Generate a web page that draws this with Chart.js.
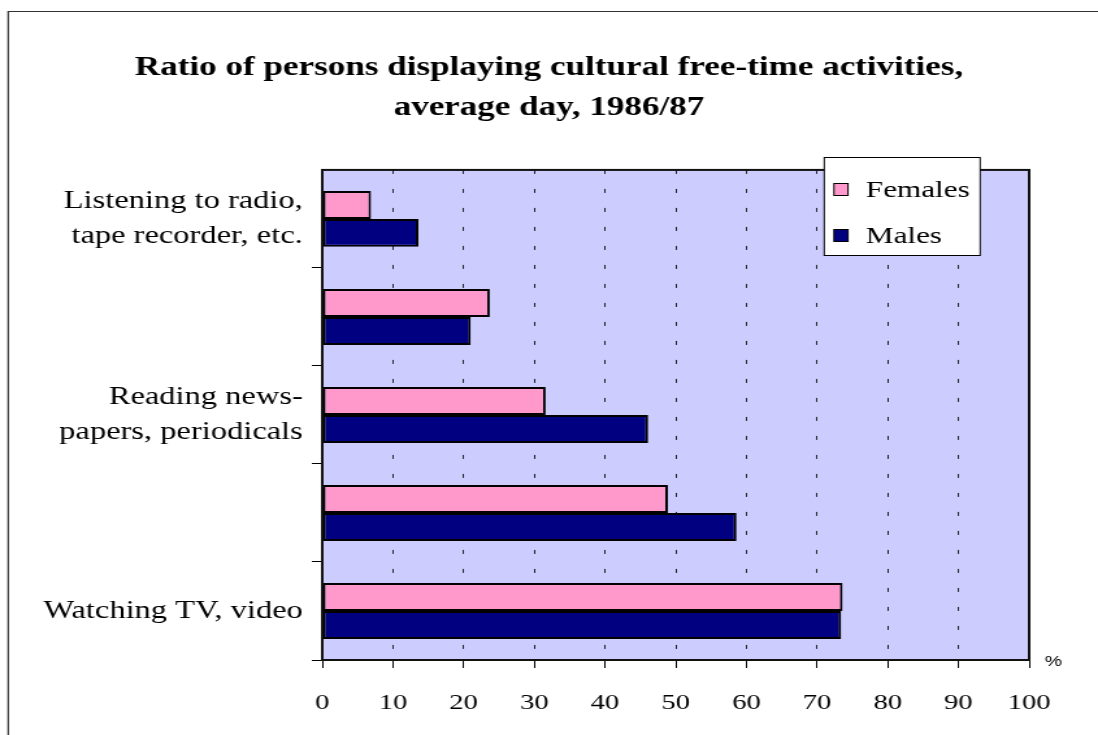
<!DOCTYPE html>
<html>
<head>
<meta charset="utf-8">
<script src="https://cdn.jsdelivr.net/npm/chart.js@4/dist/chart.umd.min.js"></script>
<style>
  html, body { margin: 0; padding: 0; background: #fff; overflow: hidden; }
  /* the chart is laid out 845 wide and widened to the 1098 px page */
  #wrap { width: 845px; height: 735px; transform: scaleX(1.29941); transform-origin: 0 0; }
</style>
</head>
<body>
<div id="wrap"><canvas id="chart" width="845" height="735"></canvas></div>
<script>
// activities, top to bottom; every other one is left unlabelled on the axis
const activities = [
    ['Listening to radio,', 'tape recorder, etc.'],
    '',
    ['Reading news-', 'papers, periodicals'],
    '',
    'Watching TV, video'
];
const females = [6.9, 23.7, 31.6, 48.9, 73.6];
const males = [13.6, 21.0, 46.1, 58.6, 73.4];
const percentTicks = [0, 10, 20, 30, 40, 50, 60, 70, 80, 90, 100];

const serif = 'Liberation Serif';

// frame, plot border, legend box and the % unit
const decorations = {
    id: 'decorations',
    beforeDraw(chart) {
        const { ctx, chartArea: a } = chart;
        ctx.save();
        ctx.fillStyle = '#ccccff';
        ctx.fillRect(a.left, a.top, a.right - a.left, a.bottom - a.top);
        ctx.strokeStyle = '#333';
        ctx.lineWidth = 1.2;
        ctx.beginPath();
        ctx.moveTo(6.3, chart.height + 5);
        ctx.lineTo(6.3, 11.5);
        ctx.lineTo(chart.width + 5, 11.5);
        ctx.stroke();
        ctx.restore();
    },
    afterDraw(chart) {
        const { ctx, chartArea: a } = chart;
        ctx.save();
        ctx.strokeStyle = '#111';
        ctx.lineWidth = 2;
        ctx.strokeRect(a.left, a.top, a.right - a.left, a.bottom - a.top);

        ctx.fillStyle = '#000';
        ctx.font = '15px "Liberation Sans"';
        ctx.textAlign = 'left';
        ctx.textBaseline = 'middle';
        ctx.fillText('%', a.right + 12, a.bottom + 2);

        // legend
        const lx = 634.3, ly = 157.5, lw = 120, lh = 98;
        ctx.fillStyle = '#fff';
        ctx.fillRect(lx, ly, lw, lh);
        ctx.strokeStyle = '#000';
        ctx.lineWidth = 1;
        ctx.strokeRect(lx, ly, lw, lh);
        ctx.font = '24px "' + serif + '"';
        chart.data.datasets.forEach((ds, i) => {
            const cy = ly + 32 + i * 46;
            ctx.fillStyle = ds.backgroundColor;
            ctx.fillRect(lx + 7.5, cy - 6, 10.8, 12);
            ctx.strokeRect(lx + 7.5, cy - 6, 10.8, 12);
            ctx.fillStyle = '#000';
            ctx.fillText(ds.label, lx + 32, cy + 1);
        });
        ctx.restore();
    }
};

new Chart(document.getElementById('chart'), {
    type: 'bar',
    data: {
        labels: activities,
        datasets: [
            { label: 'Females', data: females, backgroundColor: '#ff99cc' },
            { label: 'Males', data: males, backgroundColor: '#000080' }
        ]
    },
    options: {
        indexAxis: 'y',
        responsive: false,
        animation: false,
        layout: { padding: 0 },
        datasets: {
            bar: {
                borderColor: '#000',
                borderWidth: 2,
                borderSkipped: false,
                categoryPercentage: 0.57,
                barPercentage: 1
            }
        },
        scales: {
            x: {
                min: 0,
                max: 100,
                afterBuildTicks: scale => {
                    scale.ticks = percentTicks.map(v => ({ value: v }));
                },
                afterFit: scale => { scale.height = 75; },
                grid: {
                    color: '#222',
                    lineWidth: 1,
                    tickLength: 8,
                    tickColor: '#000'
                },
                border: { display: true, color: '#000', width: 2, dash: [4, 15] },
                ticks: {
                    color: '#000',
                    padding: 22,
                    font: { family: serif, size: 22 }
                }
            },
            y: {
                afterFit: scale => { scale.width = 248; },
                grid: {
                    offset: true,
                    drawOnChartArea: false,
                    tickLength: 8,
                    color: '#000',
                    tickColor: c => c.index === 0 ? 'rgba(0,0,0,0)' : '#000'
                },
                border: { display: true, color: '#000', width: 2 },
                ticks: {
                    color: '#000',
                    padding: 7,
                    autoSkip: false,
                    font: { family: serif, size: 25, lineHeight: 1.4 }
                }
            },
            // empty strip on the right that leaves room for the % sign and the last tick label
            gutter: {
                type: 'linear',
                position: 'right',
                grid: { display: false, drawTicks: false },
                border: { display: false },
                ticks: { display: false },
                afterFit: scale => { scale.width = 53; }
            }
        },
        plugins: {
            legend: { display: false },
            tooltip: { enabled: false },
            title: {
                display: true,
                text: ['Ratio of persons displaying cultural free-time activities,', 'average day, 1986/87'],
                color: '#000',
                font: { family: serif, size: 27, weight: 'bold', lineHeight: 1.48 },
                padding: { top: 48, bottom: 42 }
            }
        }
    },
    plugins: [decorations]
});
</script>
</body>
</html>
